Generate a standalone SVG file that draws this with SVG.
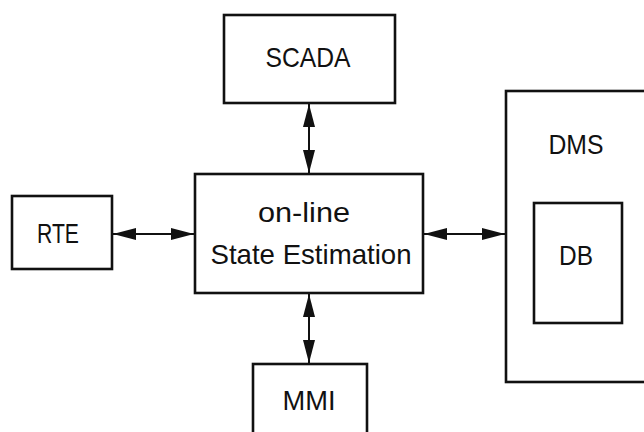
<svg xmlns="http://www.w3.org/2000/svg" width="644" height="432" viewBox="0 0 644 432">
  <style>
    .box { fill: none; stroke: #111; stroke-width: 2.6; }
    .link { stroke: #111; stroke-width: 2; fill: none; }
    .lbl { font-family: "Liberation Sans", Arial, sans-serif; font-size: 28.5px; fill: #111; text-anchor: middle; }
  </style>
  <defs>
    <marker id="head" viewBox="0 0 23 12" refX="23" refY="6" markerWidth="23" markerHeight="12" markerUnits="userSpaceOnUse" orient="auto-start-reverse">
      <path d="M0,0 L23,6 L0,12 z" fill="#111"/>
    </marker>
  </defs>
  <rect width="644" height="432" fill="#fff"/>

  <g id="connectors">
    <line class="link" x1="309" y1="104" x2="309" y2="173" marker-start="url(#head)" marker-end="url(#head)"/>
    <line class="link" x1="113" y1="234" x2="194" y2="234" marker-start="url(#head)" marker-end="url(#head)"/>
    <line class="link" x1="424" y1="234" x2="505" y2="234" marker-start="url(#head)" marker-end="url(#head)"/>
    <line class="link" x1="309" y1="294" x2="309" y2="363" marker-start="url(#head)" marker-end="url(#head)"/>
  </g>

  <g id="scada">
    <rect class="box" x="224" y="15" width="171" height="88"/>
    <text class="lbl" x="308" y="67" textLength="85" lengthAdjust="spacingAndGlyphs">SCADA</text>
  </g>

  <g id="rte">
    <rect class="box" x="12" y="196" width="100" height="73"/>
    <text class="lbl" x="58" y="243" textLength="42" lengthAdjust="spacingAndGlyphs">RTE</text>
  </g>

  <g id="state-estimation">
    <rect class="box" x="195" y="174" width="228" height="119"/>
    <text class="lbl" x="304" y="222" textLength="92" lengthAdjust="spacingAndGlyphs">on-line</text>
    <text class="lbl" x="311" y="264" textLength="201" lengthAdjust="spacingAndGlyphs">State Estimation</text>
  </g>

  <g id="mmi">
    <rect class="box" x="253" y="364" width="114" height="80"/>
    <text class="lbl" x="309" y="410" textLength="53" lengthAdjust="spacingAndGlyphs">MMI</text>
  </g>

  <g id="dms">
    <rect class="box" x="506" y="91" width="160" height="291"/>
    <text class="lbl" x="576" y="154" textLength="55" lengthAdjust="spacingAndGlyphs">DMS</text>
    <g id="db">
      <rect class="box" x="534" y="203" width="88" height="120"/>
      <text class="lbl" x="576" y="265" textLength="34" lengthAdjust="spacingAndGlyphs">DB</text>
    </g>
  </g>
</svg>
